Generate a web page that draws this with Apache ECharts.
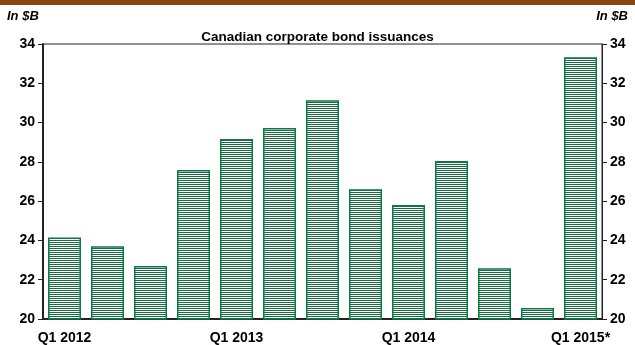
<!DOCTYPE html>
<html>
<head>
<meta charset="utf-8">
<script src="https://cdn.jsdelivr.net/npm/echarts@6/dist/echarts.min.js"></script>
<style>
  html, body { margin: 0; padding: 0; background: #fff; }
  #chart { width: 635px; height: 345px; }
</style>
</head>
<body>
<div id="chart"></div>
<script>
// Quarterly Canadian corporate bond issuances, in $B
const quarters = ['Q1 2012', 'Q2 2012', 'Q3 2012', 'Q4 2012',
                  'Q1 2013', 'Q2 2013', 'Q3 2013', 'Q4 2013',
                  'Q1 2014', 'Q2 2014', 'Q3 2014', 'Q4 2014',
                  'Q1 2015*'];
const issuances = [24.15, 23.7, 22.7, 27.58, 29.17, 29.72, 31.14,
                   26.61, 25.81, 28.04, 22.59, 20.56, 33.33];
const axisMin = 20;
const axisMax = 34;
const axisStep = 2;

const FONT = '"Liberation Sans", Arial, sans-serif';
const GREEN = '#0a7a44';

// Horizontal hatching used to fill the bars
function stripePattern() {
  const c = document.createElement('canvas');
  c.width = 2; c.height = 2;
  const ctx = c.getContext('2d');
  ctx.fillStyle = '#ffffff';
  ctx.fillRect(0, 0, 2, 2);
  ctx.fillStyle = '#1a6a42';
  ctx.fillRect(0, 0, 2, 1);
  return c;
}

const valueAxis = (pos, lineWidth) => ({
  type: 'value',
  position: pos,
  min: axisMin,
  max: axisMax,
  interval: axisStep,
  splitLine: { show: false },
  axisLine: { show: true, lineStyle: { color: '#222', width: lineWidth } },
  axisTick: { show: true, inside: false, length: 5, lineStyle: { color: '#222' } },
  axisLabel: {
    color: '#000', fontFamily: FONT, fontWeight: 'bold', fontSize: 14, margin: 8
  }
});

const chart = echarts.init(document.getElementById('chart'), null, { renderer: 'canvas' });
chart.setOption({
  animation: false,
  backgroundColor: '#fff',
  grid: {
    left: 43, right: 33, top: 44, bottom: 26,
    show: true, borderColor: '#222', borderWidth: 1, backgroundColor: 'transparent'
  },
  graphic: [
    { type: 'rect', left: 0, top: 0, shape: { width: 635, height: 5 },
      style: { fill: '#8a4610' } },
    { type: 'text', left: 7, top: 10,
      style: { text: 'In $B', font: 'italic bold 13px ' + FONT, fill: '#000' } },
    { type: 'text', right: 7, top: 10,
      style: { text: 'In $B', font: 'italic bold 13px ' + FONT, fill: '#000' } },
    { type: 'text', left: 'center', top: 30,
      style: { text: 'Canadian corporate bond issuances', font: 'bold 13.5px ' + FONT, fill: '#000' } }
  ],
  xAxis: {
    type: 'category',
    data: quarters,
    axisLine: { show: true, lineStyle: { color: '#222', width: 2 } },
    axisTick: { show: false },
    axisLabel: {
      interval: 3, color: '#000', fontFamily: FONT, fontWeight: 'bold',
      fontSize: 14, margin: 12
    }
  },
  yAxis: [valueAxis('left', 2), valueAxis('right', 1)],
  series: [{
    type: 'bar',
    data: issuances,
    barWidth: 33,
    itemStyle: {
      color: { image: stripePattern(), repeat: 'repeat' },
      borderColor: GREEN,
      borderWidth: 1.5
    }
  }]
});
</script>
</body>
</html>
